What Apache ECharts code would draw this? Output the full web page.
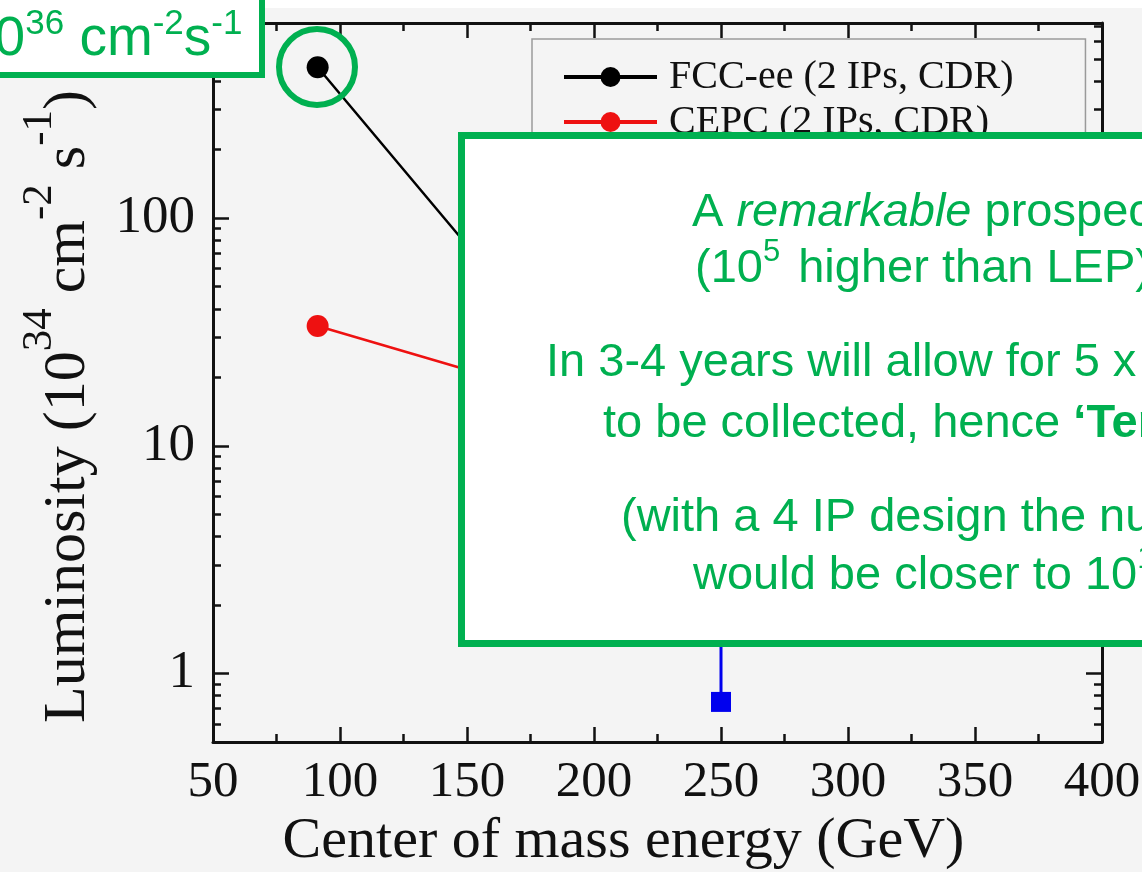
<!DOCTYPE html>
<html>
<head>
<meta charset="utf-8">
<script src="https://cdn.jsdelivr.net/npm/echarts@6/dist/echarts.min.js"></script>
<style>
html,body{margin:0;padding:0;background:#ffffff;}
#c{width:1142px;height:872px;}
</style>
</head>
<body>
<div id="c"></div>
<script>
// ---- data ----
const fccName = 'FCC-ee (2 IPs, CDR)';
const fccEnergy = [91.2, 160, 240, 365];
const fccLumi = [460, 56, 17, 3.1];

const cepcName = 'CEPC (2 IPs, CDR)';
const cepcEnergy = [91.2, 160, 240];
const cepcLumi = [33.6, 20, 6];

const ilcName = 'ILC (250 GeV)';
const ilcEnergy = [250, 250];
const ilcLumi = [0.75, 2.7];

const xMin = 50, xMax = 400, xStep = 50;
const yMin = 0.5, yMax = 720;
const yMajorTicks = [1, 10, 100];
const yMinorTicks = [0.6, 0.7, 0.8, 0.9, 2, 3, 4, 5, 6, 7, 8, 9, 20, 30, 40, 50, 60, 70, 80, 90, 200, 300, 400, 500, 600, 700];

const xTitle = 'Center of mass energy (GeV)';
const yTitleParts = ['Luminosity (10', '34', ' cm', '-2', ' s', '-1', ')'];
const noteTopLeft = ['10', '36', ' cm', '-2', 's', '-1'];

// ---- styles ----
const AX = '#111111';
const GREEN = '#00B050';
const SERIF = '"Liberation Serif", "Times New Roman", serif';
const SANS = '"Liberation Sans", Arial, sans-serif';

function pairs(xs, ys) { return xs.map((x, i) => [x, ys[i]]); }

const axisLine = { show: true, lineStyle: { color: AX, width: 3 } };

function xAxisCfg(pos, labels) {
  const a = {
    type: 'value', position: pos, min: xMin, max: xMax, interval: xStep,
    axisLine: axisLine,
    axisTick: { show: true, inside: true, length: 15, lineStyle: { color: AX, width: 2.5 } },
    minorTick: { show: true, splitNumber: 2, length: 8, lineStyle: { color: AX, width: 2.5 } },
    splitLine: { show: false }, minorSplitLine: { show: false },
    axisLabel: { show: labels, fontFamily: SERIF, fontSize: 51, color: AX, margin: 15 }
  };
  if (labels) {
    a.name = xTitle;
    a.nameLocation = 'middle';
    a.nameGap = 71;
    a.nameTextStyle = { fontFamily: SERIF, fontSize: 58, color: AX, padding: [0, 68, 0, 0] };
  }
  return a;
}

function yAxisCfg(pos, major, labels) {
  const a = {
    type: 'log', logBase: 10, position: pos, min: yMin, max: yMax,
    axisLine: major ? axisLine : { show: false },
    axisTick: { show: true, inside: true, length: major ? 16 : 8,
      customValues: major ? yMajorTicks : yMinorTicks,
      lineStyle: { color: AX, width: 2.5 } },
    splitLine: { show: false },
    axisLabel: { show: labels, customValues: yMajorTicks, fontFamily: SERIF, fontSize: 53, color: AX, margin: 18 }
  };
  if (labels) {
    const p = yTitleParts;
    a.name = '{b|' + p[0] + '}{s|' + p[1] + '}{b|' + p[2] + '}{s|' + p[3] + '}{b|' + p[4] + '}{s|' + p[5] + '}{b|' + p[6] + '}';
    a.nameLocation = 'middle';
    a.nameRotate = 90;
    a.nameGap = 115;
    a.nameTextStyle = {
      color: AX, padding: [0, 48, 0, 0],
      rich: {
        b: { fontFamily: SERIF, fontSize: 60, lineHeight: 80, verticalAlign: 'bottom', color: AX },
        s: { fontFamily: SERIF, fontSize: 43, lineHeight: 44, verticalAlign: 'top', color: AX }
      }
    };
  }
  return a;
}

const boxRich = {
  n: { fontFamily: SANS, fontSize: 47, lineHeight: 56, verticalAlign: 'bottom', fill: GREEN },
  i: { fontFamily: SANS, fontSize: 47, lineHeight: 56, verticalAlign: 'bottom', fontStyle: 'italic', fill: GREEN },
  b: { fontFamily: SANS, fontSize: 47, lineHeight: 56, verticalAlign: 'bottom', fontWeight: 'bold', fill: GREEN },
  s: { fontFamily: SANS, fontSize: 31, lineHeight: 42, verticalAlign: 'top', fill: GREEN, padding: [0, 5, 0, 0] }
};

function boxLine(x, y, text) {
  return { type: 'text', x: x, y: y, z: 102,
    style: { text: text, rich: boxRich, align: 'left', verticalAlign: 'middle', fill: GREEN, font: '47px ' + SANS } };
}

const chart = echarts.init(document.getElementById('c'), null, { renderer: 'canvas' });
chart.setOption({
  animation: false,
  backgroundColor: '#f4f4f4',
  grid: { left: 213, right: 40, top: 23, bottom: 130, outerBoundsMode: 'none' },
  xAxis: [xAxisCfg('bottom', true), xAxisCfg('top', false)],
  yAxis: [
    yAxisCfg('left', true, true),
    yAxisCfg('left', false, false),
    yAxisCfg('right', true, false),
    yAxisCfg('right', false, false)
  ],
  legend: {
    orient: 'vertical', left: 532, top: 39,
    padding: [18, 72, 20, 30], itemGap: 5, itemWidth: 93, itemHeight: 25,
    borderColor: '#9a9a9a', borderWidth: 1.5, backgroundColor: 'transparent',
    lineStyle: { width: 4 },
    textStyle: { fontFamily: SERIF, fontSize: 40, color: AX, padding: [0, 0, 0, 7] },
    data: [fccName, cepcName, ilcName]
  },
  series: [
    { type: 'line', name: fccName, data: pairs(fccEnergy, fccLumi), xAxisIndex: 0, yAxisIndex: 0,
      symbol: 'circle', symbolSize: 22, lineStyle: { color: '#000000', width: 2.5 },
      itemStyle: { color: '#000000' } },
    { type: 'line', name: cepcName, data: pairs(cepcEnergy, cepcLumi), xAxisIndex: 0, yAxisIndex: 0,
      symbol: 'circle', symbolSize: 22, lineStyle: { color: '#ee1111', width: 2.5 },
      itemStyle: { color: '#ee1111' } },
    { type: 'line', name: ilcName, data: pairs(ilcEnergy, ilcLumi), xAxisIndex: 0, yAxisIndex: 0,
      symbol: 'rect', symbolSize: 20, lineStyle: { color: '#0000ee', width: 3 },
      itemStyle: { color: '#0000ee' } }
  ],
  graphic: [
    { type: 'rect', z: 1, shape: { x: 0, y: 0, width: 1142, height: 8 }, style: { fill: '#ffffff' } },
    { type: 'rect', z: 100, shape: { x: -20, y: -20, width: 282, height: 95 },
      style: { fill: '#ffffff', stroke: GREEN, lineWidth: 6 } },
    { type: 'text', z: 101, x: -36, y: 37,
      style: {
        text: '{b|' + noteTopLeft[0] + '}{s|' + noteTopLeft[1] + '}{b|' + noteTopLeft[2] + '}{s|' + noteTopLeft[3] + '}{b|' + noteTopLeft[4] + '}{s|' + noteTopLeft[5] + '}',
        align: 'left', verticalAlign: 'middle', fill: GREEN,
        rich: {
          b: { fontFamily: SANS, fontSize: 55, lineHeight: 60, verticalAlign: 'bottom', fill: GREEN },
          s: { fontFamily: SANS, fontSize: 35, lineHeight: 44, verticalAlign: 'top', fill: GREEN }
        }
      } },
    { type: 'circle', z: 100, shape: { cx: 317, cy: 67, r: 38 },
      style: { fill: 'none', stroke: GREEN, lineWidth: 6 } },
    { type: 'rect', z: 100, shape: { x: 461.5, y: 135.5, width: 800, height: 508 },
      style: { fill: '#ffffff', stroke: GREEN, lineWidth: 7 } },
    boxLine(692, 208.7, '{n|A }{i|remarkable}{n| prospect!}'),
    boxLine(695, 264.7, '{n|(10}{s|5}{n| higher than LEP)}'),
    boxLine(546, 358.7, '{n|In 3-4 years will allow for 5 x 10}{s|12}{n| Z decays}'),
    boxLine(603, 419.7, '{n|to be collected, hence }{b|‘TeraZ’}'),
    boxLine(621, 513.7, '{n|(with a 4 IP design the number}'),
    boxLine(693, 571.7, '{n|would be closer to 10}{s|13}{n|)}')
  ]
});
</script>
</body>
</html>
